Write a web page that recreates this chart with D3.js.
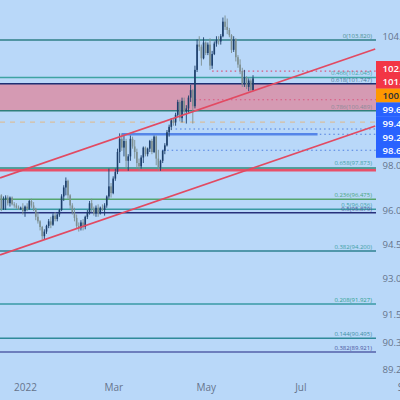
<!DOCTYPE html>
<html>
<head>
<meta charset="utf-8">
<script src="https://cdn.jsdelivr.net/npm/d3@7"></script>
<style>
  html, body { margin: 0; padding: 0; background: #b9d8f9; overflow: hidden; }
  svg { display: block; font-family: "Open Sans", sans-serif; }
</style>
</head>
<body>
<div id="chart"></div>
<script>
// daily bars
var opens = [96.2,96.65,96.05,96.5,96.55,96.3,96.55,96.25,96.2,96.1,96.05,96.1,95.95,96.15,96.05,96.4,96.2,96.05,95.7,95.5,95.25,94.85,95.05,95.3,95.5,95.35,95.75,95.6,95.8,96.0,96.6,97.0,97.3,96.65,96.2,95.9,95.65,95.3,95.2,95.45,95.25,95.7,95.9,96.3,96.05,95.85,96.1,95.85,96.1,96.0,96.2,96.6,97.05,96.75,97.4,97.7,98.6,99.2,98.8,99.1,98.2,98.4,99.2,98.85,98.6,98.1,97.95,98.35,98.8,98.5,98.75,99.1,98.6,99.3,98.3,97.9,98.2,98.65,98.9,99.5,99.75,100.05,99.95,100.3,100.9,100.15,100.95,100.45,100.6,101.1,101.45,100.7,102.4,103.6,103.5,102.95,103.7,103.2,103.6,102.6,103.15,103.65,103.8,103.75,104.0,104.7,104.45,104.3,104.05,103.35,103.85,103.0,102.65,102.35,101.75,102.05,101.6,101.9,101.45];
var highs = [96.9,96.7,96.6,96.65,96.65,96.6,96.6,96.35,96.3,96.2,96.15,96.3,96.2,96.3,96.45,96.5,96.35,96.1,95.9,95.55,95.3,95.15,95.35,95.6,95.7,95.85,95.9,95.85,96.05,96.7,97.1,97.45,97.35,96.7,96.3,96.1,95.8,95.45,95.55,95.6,95.75,96.0,96.4,96.5,96.15,96.2,96.25,96.15,96.25,96.3,96.65,97.85,97.2,97.5,97.85,98.75,99.45,99.45,99.35,99.2,98.5,99.35,99.3,99.15,98.75,98.3,98.45,98.85,98.85,98.8,99.15,99.2,99.35,99.35,98.7,98.25,98.7,99.0,99.6,99.85,100.15,100.15,100.4,101.0,101.0,101.1,101.1,100.75,101.2,101.7,101.5,102.6,103.85,104.0,103.6,103.95,103.75,103.7,103.9,103.3,103.75,104.0,104.0,104.1,104.9,105.0,104.85,104.4,104.1,104.0,103.9,103.1,102.9,102.5,102.4,102.1,102.0,102.0,102.15];
var lows = [95.9,95.95,96.0,96.0,96.2,96.15,96.2,96.1,96.05,96.0,96.0,95.8,95.7,95.95,96.0,96.1,95.95,95.55,95.4,95.1,94.7,94.7,94.95,95.2,95.2,95.3,95.5,95.5,95.7,95.95,96.4,96.65,96.5,96.05,95.8,95.5,95.2,95.05,95.1,95.1,95.15,95.6,95.8,95.9,95.75,95.7,95.7,95.8,95.95,95.75,96.1,96.5,96.55,96.7,97.3,97.6,98.1,98.65,98.4,97.9,97.75,98.2,98.75,98.3,97.85,97.75,97.85,98.1,98.4,98.4,98.6,98.5,98.55,98.0,97.75,97.75,98.1,98.5,98.85,99.3,99.6,99.8,99.8,100.2,100.0,99.95,100.3,99.9,100.4,100.9,99.9,100.6,102.3,103.3,102.6,102.9,103.1,103.1,102.4,102.45,103.1,103.5,103.6,103.6,103.95,104.3,104.1,103.95,103.2,103.25,102.8,102.5,102.2,101.6,101.6,101.5,101.4,101.4,101.4];
var closes = [96.65,96.05,96.5,96.55,96.3,96.55,96.25,96.2,96.1,96.05,96.1,95.95,96.15,96.05,96.4,96.2,96.05,95.7,95.5,95.25,94.85,95.05,95.3,95.5,95.35,95.75,95.6,95.8,96.0,96.6,97.0,97.3,96.65,96.2,95.9,95.65,95.3,95.2,95.45,95.25,95.7,95.9,96.3,96.05,95.85,96.1,95.85,96.1,96.0,96.2,96.6,97.05,96.75,97.4,97.7,98.6,99.2,98.8,99.1,98.2,98.4,99.2,98.85,98.6,98.1,97.95,98.35,98.8,98.5,98.75,99.1,98.6,99.3,98.3,97.9,98.2,98.65,98.9,99.5,99.75,100.05,99.95,100.3,100.9,100.15,100.95,100.45,100.6,101.1,101.45,100.7,102.4,103.6,103.5,102.95,103.7,103.2,103.6,102.6,103.15,103.65,103.8,103.75,104.0,104.7,104.45,104.3,104.05,103.35,103.85,103.0,102.65,102.35,101.75,102.05,101.6,101.9,101.45,102.0];
var firstBar = -12;

var fibPrices = [103.82,102.045,101.747,100.489,97.873,96.475,96.036,95.879,94.2,91.927,90.495,89.921];
var fibLabels = ["0(103.820)","0.466(102.045)","0.618(101.747)","0.786(100.489)","0.658(97.873)","0.236(96.475)","0.5(96.036)","0.5(95.879)","0.382(94.200)","0.208(91.927)","0.144(90.495)","0.382(89.921)"];

var zoneTop = 101.747;
var zoneBottom = 100.489;
var redLevel = 97.78;
var dashedLevel = 99.97;
var pinkDotted = [{price: 102.34, from: 87}, {price: 101.0, from: 79}];
var blueDotted = [{price: 99.65, from: 70}, {price: 99.41, from: 45}, {price: 98.68, from: 64}];
var blueBar = {price: 99.41, from: 45, to: 136};

var trendIdx = [-11.6, 162.8];
var upperTrend = [97.43, 103.39];
var lowerTrend = [94.03, 99.79];

var priceTicks = [104, 98, 96, 94.5, 93, 91.5, 90.3, 89.2];
var timeIdx = [0, 41, 84, 128, 177];
var timeLabels = ["2022", "Mar", "May", "Jul", "Sep"];
var badgeLabels = ["102.", "101.", "100.", "99.6", "99.4", "99.2", "98.6"];

var svgWidth = 400;
var svgHeight = 400;
var plotRight = 376;

var svg = d3.select("#chart").append("svg")
  .attr("width", svgWidth)
  .attr("height", svgHeight);

svg.append("rect").attr("width", svgWidth).attr("height", svgHeight).attr("fill", "#b9d8f9");

// the price axis is logarithmic: the fib levels only line up that way
var y = d3.scaleLog().domain([103.82, 89.921]).range([40, 352]);
var x = d3.scaleLinear().domain([0, 172]).range([25, 395]);

var plot = svg.append("g");

function hline(price, color, width, x1, dash) {
  plot.append("line")
    .attr("x1", x1 === undefined ? 0 : x1)
    .attr("x2", plotRight)
    .attr("y1", y(price))
    .attr("y2", y(price))
    .attr("stroke", color)
    .attr("stroke-width", width)
    .attr("stroke-dasharray", dash || null);
}

// pink zone
plot.append("rect")
  .attr("x", 0)
  .attr("y", y(zoneTop))
  .attr("width", plotRight)
  .attr("height", y(zoneBottom) - y(zoneTop))
  .attr("fill", "#d59ab3");

hline(dashedLevel, "#d9bf9f", 1.2, 0, "5,5");
hline(redLevel, "#e8506a", 2.8);

var fibColors = ["#2f7f86","#3fa3a3","#1c2f73","#2f7f7a","#2f8f80","#55a56f","#3a9aa3","#27317c","#2f8290","#3a9aa5","#2f8a9a","#5560a8"];
var fibText = ["#4a8f8f","#3fa9a9","#4b7a99","#8a8a98","#3f9fa5","#4aa57f","#3fa3a8","#4a5a9a","#3f9fa5","#2f9f8f","#3f8fa5","#4a55a0"];
var fibDy = [-2, -2, -2, -2, -3, -2, -2, -2, -2, -2, -2, -2];

fibPrices.forEach(function(p, i) {
  hline(p, fibColors[i], 1.5);
  plot.append("text")
    .attr("x", 372)
    .attr("y", y(p) + fibDy[i])
    .attr("text-anchor", "end")
    .attr("font-size", 6)
    .attr("fill", fibText[i])
    .text(fibLabels[i]);
});

pinkDotted.forEach(function(d) {
  hline(d.price, "#d9577f", 1.1, x(d.from), "1.5,3");
});
blueDotted.forEach(function(d) {
  hline(d.price, "#4f7fe0", 1.1, x(d.from), "1.5,3");
});
plot.append("line")
  .attr("x1", x(blueBar.from))
  .attr("x2", x(blueBar.to))
  .attr("y1", y(blueBar.price))
  .attr("y2", y(blueBar.price))
  .attr("stroke", "#5585e8")
  .attr("stroke-width", 2.6);

// candles
var barIdx = d3.range(closes.length);
var candles = plot.append("g");
var upColor = "#1d3f6b";
var downColor = "#7d8f90";

candles.selectAll(".wick")
  .data(barIdx)
  .enter()
  .append("line")
  .attr("class", "wick")
  .attr("x1", d => x(firstBar + d))
  .attr("x2", d => x(firstBar + d))
  .attr("y1", d => y(highs[d]))
  .attr("y2", d => y(lows[d]))
  .attr("stroke", d => closes[d] >= opens[d] ? upColor : downColor)
  .attr("stroke-width", 0.9);

candles.selectAll(".body")
  .data(barIdx)
  .enter()
  .append("rect")
  .attr("class", "body")
  .attr("x", d => x(firstBar + d) - 0.8)
  .attr("y", d => y(Math.max(opens[d], closes[d])))
  .attr("width", 1.6)
  .attr("height", d => Math.max(0.8, Math.abs(y(opens[d]) - y(closes[d]))))
  .attr("fill", d => closes[d] >= opens[d] ? upColor : downColor);

// channel lines
[upperTrend, lowerTrend].forEach(function(t) {
  plot.append("line")
    .attr("x1", x(trendIdx[0]))
    .attr("x2", x(trendIdx[1]))
    .attr("y1", y(t[0]))
    .attr("y2", y(t[1]))
    .attr("stroke", "#e24a62")
    .attr("stroke-width", 1.7);
});

// price axis, labels run off the right edge
var rightAxis = d3.axisRight(y).tickValues(priceTicks).tickSize(0).tickFormat(d3.format(".3f"));
var yAxisG = svg.append("g")
  .attr("transform", "translate(" + plotRight + ",0)")
  .call(rightAxis);
yAxisG.select(".domain").remove();
yAxisG.selectAll("text")
  .attr("x", 6.5)
  .attr("fill", "#66748c")
  .attr("font-size", 9.6)
  .style("font-family", "'Open Sans', sans-serif");

// time axis
var bottomAxis = d3.axisBottom(x)
  .tickValues(timeIdx)
  .tickSize(0)
  .tickFormat((d, i) => timeLabels[i]);
var xAxisG = svg.append("g")
  .attr("transform", "translate(0,380)")
  .call(bottomAxis);
xAxisG.select(".domain").remove();
xAxisG.selectAll("text")
  .attr("y", 4)
  .attr("fill", "#66748c")
  .attr("font-size", 10)
  .style("font-family", "'Open Sans', sans-serif");

// stacked price badges
var badgeColors = ["#f23645","#f23645","#ff9800","#2962ff","#2962ff","#2962ff","#2962ff"];
var badgeHeight = 13.8;
var badges = svg.append("g").selectAll("g")
  .data(badgeLabels)
  .enter()
  .append("g")
  .attr("transform", (d, i) => "translate(" + plotRight + "," + (61 + i * badgeHeight) + ")");

badges.append("rect")
  .attr("width", svgWidth - plotRight)
  .attr("height", badgeHeight + 0.2)
  .attr("fill", (d, i) => badgeColors[i]);

badges.append("text")
  .attr("x", 6.5)
  .attr("y", 10.5)
  .attr("font-size", 9.6)
  .attr("font-weight", 600)
  .attr("fill", (d, i) => i == 2 ? "#2a2e39" : "#ffffff")
  .text(d => d);
</script>
</body>
</html>
